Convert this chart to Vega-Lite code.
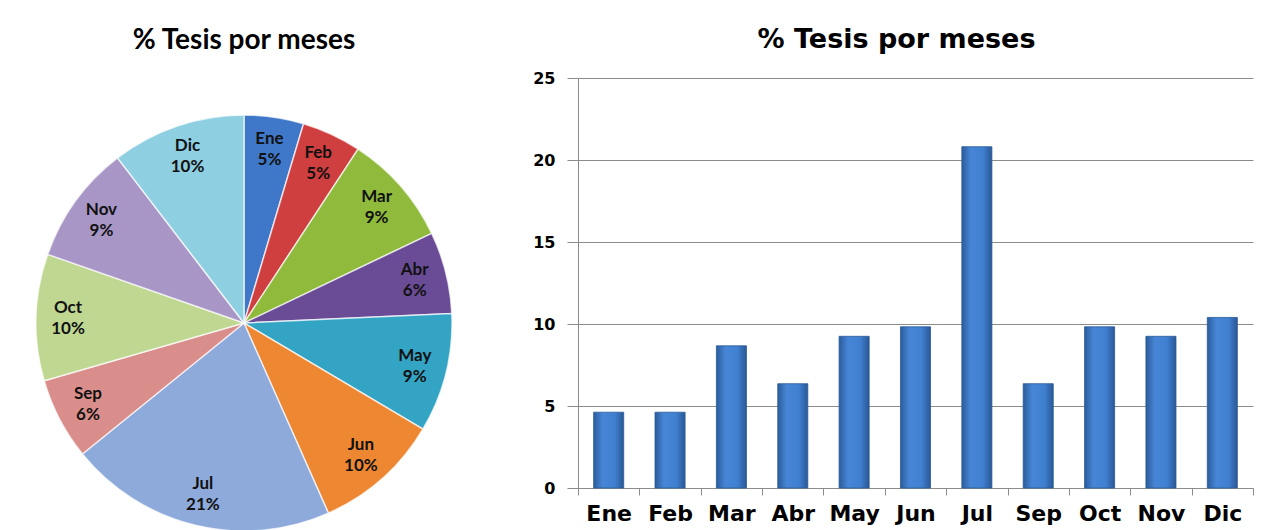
{
  "$schema": "https://vega.github.io/schema/vega-lite/v6.json",
  "padding": {"left": 0, "top": 26, "right": 0, "bottom": 0},
  "background": "white",
  "config": {
    "view": {"stroke": null},
    "title": {"fontWeight": "bold", "color": "#000000"}
  },
  "datasets": {
    "tesis": [
      {"mes": "Ene", "m": 1, "pct": 4.62, "lbl": "Ene\n5%"},
      {"mes": "Feb", "m": 2, "pct": 4.62, "lbl": "Feb\n5%"},
      {"mes": "Mar", "m": 3, "pct": 8.67, "lbl": "Mar\n9%"},
      {"mes": "Abr", "m": 4, "pct": 6.36, "lbl": "Abr\n6%"},
      {"mes": "May", "m": 5, "pct": 9.25, "lbl": "May\n9%"},
      {"mes": "Jun", "m": 6, "pct": 9.83, "lbl": "Jun\n10%"},
      {"mes": "Jul", "m": 7, "pct": 20.81, "lbl": "Jul\n21%"},
      {"mes": "Sep", "m": 9, "pct": 6.36, "lbl": "Sep\n6%"},
      {"mes": "Oct", "m": 10, "pct": 9.83, "lbl": "Oct\n10%"},
      {"mes": "Nov", "m": 11, "pct": 9.25, "lbl": "Nov\n9%"},
      {"mes": "Dic", "m": 12, "pct": 10.4, "lbl": "Dic\n10%"}
    ]
  },
  "spacing": 44,
  "hconcat": [
    {
      "width": 488,
      "height": 490,
      "title": {"text": "% Tesis por meses", "font": "Lato", "fontSize": 28, "offset": 23},
      "data": {"name": "tesis"},
      "layer": [
        {
          "mark": {"type": "arc", "outerRadius": 208, "stroke": "#ffffff", "strokeOpacity": 0.7, "strokeWidth": 1.5},
          "encoding": {
            "theta": {"field": "pct", "type": "quantitative", "stack": true},
            "order": {"field": "m", "type": "quantitative"},
            "color": {
              "field": "mes", "type": "nominal", "legend": null,
              "scale": {
                "domain": ["Ene", "Feb", "Mar", "Abr", "May", "Jun", "Jul", "Sep", "Oct", "Nov", "Dic"],
                "range": ["#3f78c8", "#d03f3f", "#8fba3c", "#6a4c96", "#34a4c4", "#ee8732", "#8eaadb", "#da8e8b", "#bfd791", "#a897c6", "#8ecfe2"]
              }
            }
          }
        },
        {
          "mark": {"type": "text", "radius": 176, "font": "Lato", "fontSize": 17, "fontWeight": "bold", "color": "#111111", "lineBreak": "\n", "lineHeight": 21, "baseline": "middle", "align": "center", "dy": -10},
          "encoding": {
            "theta": {"field": "pct", "type": "quantitative", "stack": true},
            "order": {"field": "m", "type": "quantitative"},
            "detail": {"field": "mes", "type": "nominal"},
            "text": {"field": "lbl", "type": "nominal"}
          }
        }
      ]
    },
    {
      "width": 675,
      "height": 410,
      "title": {"text": "% Tesis por meses", "font": "DejaVu Sans", "fontSize": 27, "offset": 16, "dx": -19},
      "data": {"name": "tesis"},
      "mark": {
        "type": "bar",
        "width": {"band": 0.49},
        "stroke": "#2a5a98",
        "strokeWidth": 0.8,
        "color": {
          "gradient": "linear", "x1": 0, "x2": 1, "y1": 0, "y2": 0,
          "stops": [
            {"offset": 0, "color": "#2b5c9c"},
            {"offset": 0.3, "color": "#4786d6"},
            {"offset": 0.7, "color": "#4080d0"},
            {"offset": 1, "color": "#2a5896"}
          ]
        }
      },
      "encoding": {
        "x": {
          "field": "mes", "type": "nominal", "sort": {"field": "m"}, "title": null,
          "scale": {"paddingInner": 0, "paddingOuter": 0},
          "axis": {
            "labelAngle": 0, "labelFont": "DejaVu Sans", "labelFontSize": 22, "labelFontWeight": "bold", "labelColor": "#000000",
            "labelPadding": 8, "tickBand": "extent", "tickSize": 7, "tickColor": "#8c8c8c", "domainColor": "#8c8c8c", "grid": false
          }
        },
        "y": {
          "field": "pct", "type": "quantitative", "title": null,
          "scale": {"domain": [0, 25], "nice": false},
          "axis": {
            "values": [0, 5, 10, 15, 20, 25], "labelFont": "DejaVu Sans", "labelFontSize": 16, "labelFontWeight": "bold", "labelColor": "#000000",
            "labelPadding": 12, "tickSize": 11, "tickColor": "#8c8c8c", "domainColor": "#8c8c8c", "gridColor": "#8c8c8c", "gridOpacity": 1, "grid": true
          }
        }
      }
    }
  ]
}
